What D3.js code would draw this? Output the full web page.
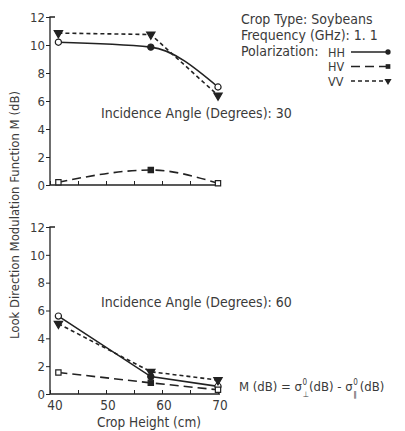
<!DOCTYPE html>
<html><head><meta charset="utf-8">
<script src="https://cdn.jsdelivr.net/npm/d3@7"></script>
<style>
body{margin:0;background:#fff;}
svg text{font-family:"Liberation Sans Narrow","DejaVu Sans Condensed","Arial Narrow",sans-serif;fill:#3a3a3a;}
</style></head><body>
<svg id="c" width="405" height="431"></svg>
<script>
const heights = [41.5, 58, 70];
// Incidence angle 30
const hh30 = [10.2, 9.85, 7.0];
const hv30 = [0.2, 1.07, 0.13];
const vv30 = [10.85, 10.75, 6.4];
// Incidence angle 60
const hh60 = [5.6, 1.25, 0.55];
const hv60 = [1.55, 0.8, 0.3];
const vv60 = [5.05, 1.6, 1.0];
const yTicks = [0, 2, 4, 6, 8, 10, 12];
const xTicks = [40, 45, 50, 55, 60, 65, 70];
const xLabels = [40, 50, 60, 70];
const seriesNames = ["HH", "HV", "VV"];

const svg = d3.select("#c");
const x = d3.scaleLinear().domain([40, 70]).range([50, 218]);
const panels = [
  {top: 17, bottom: 185, data: [hh30, hv30, vv30], curves: [d3.curveMonotoneX, d3.curveMonotoneX, d3.curveLinear],
   label: "Incidence Angle (Degrees): 30", ly: 118, xlab: false},
  {top: 227, bottom: 394, data: [hh60, hv60, vv60], curves: [d3.curveLinear, d3.curveLinear, d3.curveLinear],
   label: "Incidence Angle (Degrees): 60", ly: 307, xlab: true}
];
const styles = [
  {dash: null, sym: d3.symbolCircle, size: 30},
  {dash: "9,5", sym: d3.symbolSquare, size: 28},
  {dash: "4,3", sym: d3.symbolTriangle, size: 30, rot: 180}
];
const ink = "#222";

panels.forEach(p => {
  const y = d3.scaleLinear().domain([0, 12]).range([p.bottom, p.top]);
  const g = svg.append("g");
  const ya = g.append("g").attr("transform", `translate(${x(40)},0)`)
    .call(d3.axisLeft(y).tickValues(yTicks).tickSize(4).tickPadding(1));
  ya.select(".domain").attr("d", `M0,${p.bottom}V${p.top}H5`).attr("stroke", ink).attr("stroke-width", 1.3);
  ya.selectAll(".tick line").attr("stroke", ink);
  ya.selectAll(".tick text").attr("font-size", 13).style("fill", "#3a3a3a");
  const xa = g.append("g").attr("transform", `translate(0,${p.bottom})`)
    .call(d3.axisBottom(x).tickValues(xTicks).tickSize(-4).tickFormat(""));
  xa.select(".domain").attr("d", `M${x(40)},0H${x(70)+2}`).attr("stroke", ink).attr("stroke-width", 1.3);
  xa.selectAll(".tick line").attr("stroke", ink);
  if (p.xlab) {
    g.append("g").selectAll("text").data(xLabels).join("text")
      .attr("x", d => x(d) + (d === 40 ? 5 : 2)).attr("y", p.bottom + 16)
      .attr("text-anchor", "middle").attr("font-size", 13.5).text(d => d);
  }
  p.data.forEach((vals, i) => {
    const st = styles[i];
    const pts = heights.map((h, k) => [h, vals[k]]);
    const line = d3.line().x(d => x(d[0])).y(d => y(d[1])).curve(p.curves[i]);
    g.append("path").attr("d", line(pts)).attr("fill", "none").attr("stroke", ink)
      .attr("stroke-width", 1.6).attr("stroke-dasharray", st.dash);
    g.selectAll(null).data(pts).join("path")
      .attr("d", d3.symbol().type(st.sym).size(st.size))
      .attr("transform", d => `translate(${x(d[0])},${y(d[1])})` + (st.rot ? ` rotate(${st.rot})` : ""))
      .attr("fill", (d, k) => (i === 2 || k === 1) ? ink : "#fff")
      .attr("stroke", ink).attr("stroke-width", 1.2);
  });
  g.append("text").attr("x", 101).attr("y", p.ly).attr("font-size", 14).text(p.label);
});

svg.append("text").attr("transform", "translate(19,215) rotate(-90)")
  .attr("text-anchor", "middle").attr("font-size", 13)
  .text("Look Direction  Modulation Function M (dB)");
svg.append("text").attr("x", 149).attr("y", 427).attr("text-anchor", "middle")
  .attr("font-size", 13.5).text("Crop Height (cm)");

const lg = svg.append("g");
lg.append("text").attr("x", 241).attr("y", 24).attr("font-size", 14).text("Crop Type: Soybeans");
lg.append("text").attr("x", 241).attr("y", 40).attr("font-size", 14).text("Frequency (GHz): 1. 1");
lg.append("text").attr("x", 241).attr("y", 56).attr("font-size", 14).text("Polarization:");
seriesNames.forEach((n, i) => {
  const yy = 52 + i * 14.5;
  lg.append("text").attr("x", 328).attr("y", yy + 4.5).attr("font-size", 12.5).text(n);
  lg.append("line").attr("x1", 351).attr("x2", 387).attr("y1", yy).attr("y2", yy)
    .attr("stroke", ink).attr("stroke-width", 1.3).attr("stroke-dasharray", styles[i].dash);
  lg.append("path").attr("d", d3.symbol().type(styles[i].sym).size(22))
    .attr("transform", `translate(388,${yy})` + (styles[i].rot ? " rotate(180)" : ""))
    .attr("fill", ink);
});

// formula: M (dB) = σ⁰⊥ (dB) - σ⁰∥ (dB)
const fy = 391;
const fg = svg.append("g");
const t1 = fg.append("text").attr("x", 239).attr("y", fy).attr("font-size", 13).text("M (dB) = σ");
const w1 = t1.node().getComputedTextLength();
fg.append("text").attr("x", 239 + w1 + 0.5).attr("y", fy - 6).attr("font-size", 8).text("0");
fg.append("text").attr("x", 239 + w1 + 0.5).attr("y", fy + 6).attr("font-size", 8).text("⊥");
const t2 = fg.append("text").attr("x", 239 + w1 + 7).attr("y", fy).attr("font-size", 13).text("(dB) - σ");
const w2 = t2.node().getComputedTextLength();
const x3 = 239 + w1 + 7 + w2;
fg.append("text").attr("x", x3 + 0.5).attr("y", fy - 6).attr("font-size", 8).text("0");
fg.append("text").attr("x", x3 + 0.5).attr("y", fy + 6).attr("font-size", 8).text("∥");
fg.append("text").attr("x", x3 + 7).attr("y", fy).attr("font-size", 13).text("(dB)");
</script></body></html>
